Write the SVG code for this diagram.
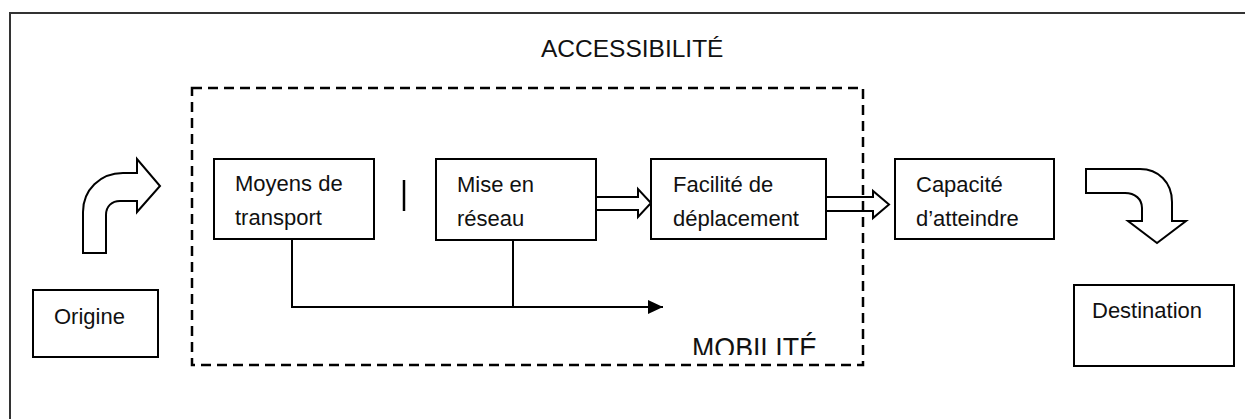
<svg xmlns="http://www.w3.org/2000/svg" width="1245" height="419" viewBox="0 0 1245 419">
<style>
.box{fill:#fff;stroke:#000;stroke-width:2}
.hollow{fill:#fff;stroke:#000;stroke-width:2;stroke-linejoin:miter}
.t{font-family:"Liberation Sans",Arial,sans-serif;font-size:22px;fill:#111}
.line{fill:none;stroke:#000;stroke-width:2}
</style>
<defs>
<marker id="ah" viewBox="0 0 15 14" refX="15" refY="7" markerWidth="15" markerHeight="14" markerUnits="userSpaceOnUse" orient="auto">
<path d="M0,0 L15,7 L0,14 Z" fill="#000"/>
</marker>
<clipPath id="mobclip"><rect x="600" y="300" width="260" height="55"/></clipPath>
</defs>
<rect width="1245" height="419" fill="#fff"/>
<g id="frame">
<path d="M10,419 V13 H1245" fill="none" stroke="#333" stroke-width="2"/>
<text class="t" x="541" y="57" style="font-size:24.5px">ACCESSIBILITÉ</text>
</g>
<g id="origin-arrow">
<path class="hollow" d="M83,253 V212 C83,190 100,173 123,173 H137 V159 L160,186 L137,212 V201 H120 C112,201 106,206 106,215 V253 Z"/>
</g>
<g id="origine">
<rect class="box" x="33" y="290" width="125" height="67"/>
<text class="t" x="54" y="324">Origine</text>
</g>
<g id="connectors">
<path class="hollow" d="M596,197 H638 V189 L651,203 L638,217 V210 H596 Z"/>
<path class="hollow" d="M826,197 H873 V191 L889,204.5 L873,218 V211 H826 Z"/>
<path class="line" d="M292,239 V307 H663" marker-end="url(#ah)"/>
<path class="line" d="M513,240 V307"/>
</g>
<g id="mobilite">
<rect x="192" y="88" width="671" height="277" fill="none" stroke="#000" stroke-width="2.5" stroke-dasharray="10 6"/>
<text class="t" x="692" y="358" style="font-size:30px" textLength="125" lengthAdjust="spacingAndGlyphs" clip-path="url(#mobclip)">MOBILITÉ</text>
</g>
<g id="moyens">
<rect class="box" x="214" y="159" width="160" height="80"/>
<text class="t" x="235" y="191">Moyens de</text>
<text class="t" x="235" y="225">transport</text>
</g>
<g id="bar">
<line x1="404" y1="180" x2="404" y2="211" stroke="#000" stroke-width="2.5"/>
</g>
<g id="mise">
<rect class="box" x="436" y="159" width="160" height="81"/>
<text class="t" x="457" y="192">Mise en</text>
<text class="t" x="457" y="226">réseau</text>
</g>
<g id="facilite">
<rect class="box" x="651" y="159" width="175" height="80"/>
<text class="t" x="673" y="192">Facilité de</text>
<text class="t" x="673" y="226">déplacement</text>
</g>
<g id="capacite">
<rect class="box" x="895" y="159" width="159" height="80"/>
<text class="t" x="916" y="192">Capacité</text>
<text class="t" x="916" y="226">d’atteindre</text>
</g>
<g id="destination-arrow">
<path class="hollow" d="M1086,169 H1140 C1158,169 1172,182 1172,202 V221 H1186 L1157,243 L1128,221 H1142 V208 C1142,199 1135,193 1125,193 H1086 Z"/>
</g>
<g id="destination">
<rect class="box" x="1074" y="285" width="160" height="81"/>
<text class="t" x="1092" y="318">Destination</text>
</g>
</svg>
